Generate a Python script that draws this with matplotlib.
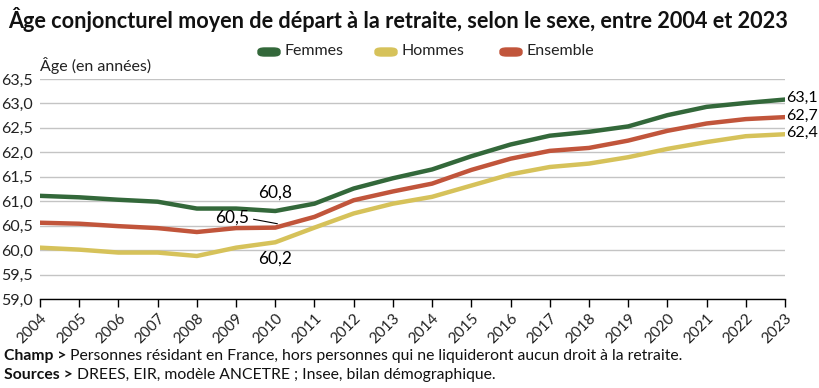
import matplotlib
matplotlib.use("Agg")
import matplotlib.pyplot as plt
from matplotlib.patches import FancyBboxPatch

# Données
annees = list(range(2004, 2024))
femmes = [61.11, 61.08, 61.03, 60.99, 60.85, 60.85, 60.80, 60.95, 61.26, 61.47,
          61.65, 61.92, 62.16, 62.34, 62.42, 62.53, 62.76, 62.93, 63.01, 63.08]
hommes = [60.05, 60.01, 59.95, 59.95, 59.88, 60.05, 60.16, 60.46, 60.75, 60.95,
          61.09, 61.32, 61.55, 61.70, 61.77, 61.90, 62.07, 62.21, 62.33, 62.37]
ensemble = [60.56, 60.54, 60.49, 60.45, 60.37, 60.45, 60.46, 60.68, 61.02, 61.20,
            61.36, 61.64, 61.87, 62.03, 62.09, 62.24, 62.44, 62.59, 62.68, 62.72]
series = ["Femmes", "Hommes", "Ensemble"]
yticks = [59.0, 59.5, 60.0, 60.5, 61.0, 61.5, 62.0, 62.5, 63.0, 63.5]

couleurs = {"Femmes": "#33683a", "Hommes": "#d6c25a", "Ensemble": "#c1553b"}
police = ["Lato", "DejaVu Sans"]
plt.rcParams["font.family"] = police

fig = plt.figure(figsize=(8.2, 3.88), dpi=100)
ax = fig.add_axes([40 / 820, 1 - 299 / 388, 745 / 820, 220 / 388])

valeurs = {"Femmes": femmes, "Hommes": hommes, "Ensemble": ensemble}
for nom in ["Hommes", "Ensemble", "Femmes"]:
    ax.plot(annees, valeurs[nom], color=couleurs[nom], lw=3.2,
            solid_capstyle="round", solid_joinstyle="round", zorder=3)

ax.set_xlim(2004, 2023)
ax.set_ylim(59.0, 63.5)
ax.set_yticks(yticks)
ax.set_yticklabels([f"{v:.1f}".replace(".", ",") for v in yticks],
                   fontsize=11.5, color="#222222")
ax.set_xticks(annees)
ax.set_xticklabels([str(a) for a in annees], rotation=45, ha="right",
                   rotation_mode="anchor", fontsize=11, color="#222222")
ax.tick_params(axis="y", length=0, pad=5)
ax.tick_params(axis="x", length=6, width=1, color="black", pad=3)
ax.grid(axis="y", color="#c4c4c4", lw=1)
ax.set_axisbelow(True)
for s in ["left", "right", "top"]:
    ax.spines[s].set_visible(False)
ax.spines["bottom"].set_color("black")
ax.spines["bottom"].set_linewidth(1)
ax.spines["bottom"].set_zorder(4)

# Étiquettes de valeurs
ax.text(2010, 61.18, "60,8", ha="center", va="center", fontsize=12.5)
ax.text(2010, 59.83, "60,2", ha="center", va="center", fontsize=12.5)
ax.text(2008.9, 60.66, "60,5", ha="center", va="center", fontsize=12.5)
ax.plot([2009.45, 2010.05], [60.63, 60.54], color="black", lw=0.8)
for nom, txt in [("Femmes", "63,1"), ("Ensemble", "62,7"), ("Hommes", "62,4")]:
    ax.text(2023.04, valeurs[nom][-1] + 0.03, txt, ha="left", va="center",
            fontsize=11.5, clip_on=False)

ax.text(0, 1.025, "Âge (en années)", transform=ax.transAxes, ha="left",
        va="bottom", fontsize=11.5, color="#222222")

# Légende
x_leg = [258, 375, 500]
for nom, x0 in zip(series, x_leg):
    fig.patches.append(FancyBboxPatch((x0 / 820, 1 - 56 / 388), 22 / 820, 8 / 388,
                                      boxstyle="round,pad=0,rounding_size=0.008",
                                      transform=fig.transFigure,
                                      color=couleurs[nom]))
    fig.text((x0 + 27) / 820, 1 - 51 / 388, nom, ha="left", va="center",
             fontsize=11.5, color="#222222")

# Titre
fig.text(8 / 820, 1 - 20 / 388,
         "Âge conjoncturel moyen de départ à la retraite, selon le sexe, entre 2004 et 2023",
         ha="left", va="center", fontsize=15.6, fontweight="bold", color="#111111")

# Notes
rendu = fig.canvas.get_renderer()
notes = [("Champ >", " Personnes résidant en France, hors personnes qui ne liquideront aucun droit à la retraite.", 356),
         ("Sources >", " DREES, EIR, modèle ANCETRE ; Insee, bilan démographique.", 375)]
for gras, reste, y in notes:
    t = fig.text(4 / 820, 1 - y / 388, gras, ha="left", va="center",
                 fontsize=11.3, fontweight="bold", color="#111111")
    bb = t.get_window_extent(renderer=rendu)
    fig.text(bb.x1 / 820, 1 - y / 388, reste, ha="left", va="center",
             fontsize=11.3, color="#111111")

fig.savefig("out.png", dpi=100, facecolor="white")
